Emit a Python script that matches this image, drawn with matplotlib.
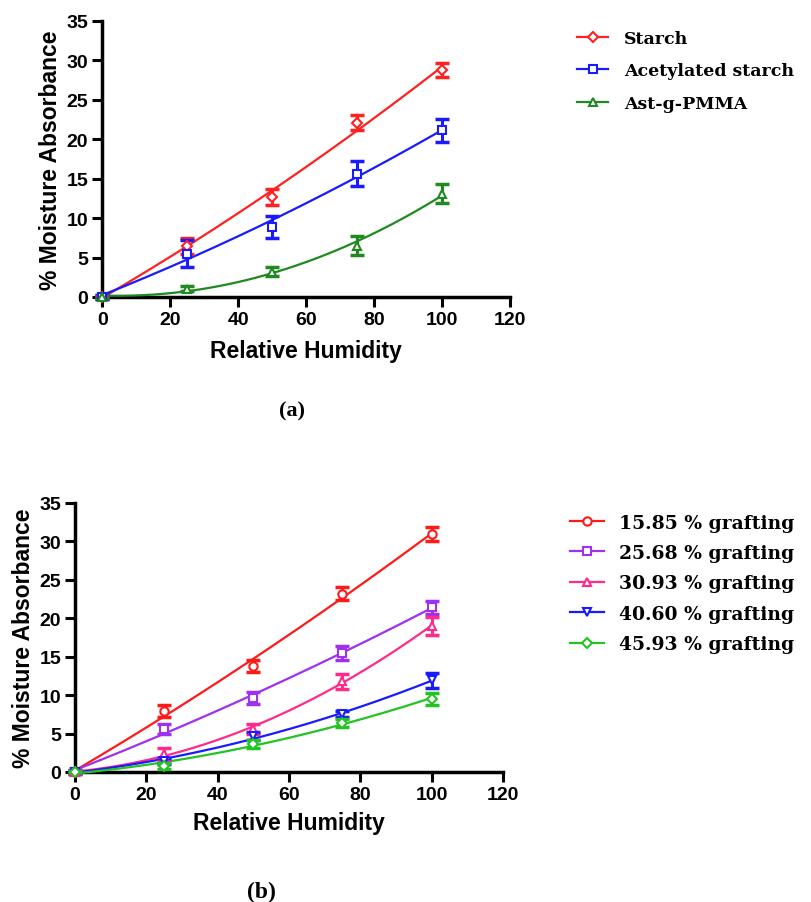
import numpy as np
import matplotlib
matplotlib.use("Agg")
import matplotlib.pyplot as plt

# ---- data panel (a) ----
rh = [0, 25, 50, 75, 100]
starch = [0.0, 6.5, 12.7, 22.1, 28.8]
starch_err = [0.2, 1.0, 1.0, 0.9, 0.9]
acet = [0.0, 5.5, 8.9, 15.6, 21.1]
acet_err = [0.2, 1.7, 1.4, 1.6, 1.5]
astg = [0.0, 1.05, 3.2, 6.5, 13.1]
astg_err = [0.1, 0.3, 0.6, 1.2, 1.2]
labels_a = ["Starch", "Acetylated starch", "Ast-g-PMMA"]

# ---- data panel (b) ----
g1585 = [0.0, 7.9, 13.8, 23.2, 30.9]
g1585_err = [0.2, 0.8, 0.8, 0.8, 0.9]
g2568 = [0.0, 5.6, 9.6, 15.5, 21.4]
g2568_err = [0.2, 0.7, 0.8, 0.9, 0.8]
g3093 = [0.0, 2.3, 5.6, 11.8, 19.0]
g3093_err = [0.1, 0.8, 0.6, 1.0, 1.2]
g4060 = [0.0, 1.4, 4.7, 7.5, 11.9]
g4060_err = [0.1, 0.4, 0.5, 0.4, 1.0]
g4593 = [0.0, 0.8, 3.6, 6.4, 9.5]
g4593_err = [0.1, 0.4, 0.5, 0.5, 0.8]
labels_b = ["15.85 % grafting", "25.68 % grafting", "30.93 % grafting",
            "40.60 % grafting", "45.93 % grafting"]

xticks = [0, 20, 40, 60, 80, 100, 120]
yticks = [0, 5, 10, 15, 20, 25, 30, 35]

sans = ["Liberation Sans", "DejaVu Sans"]
serif = ["Liberation Serif", "DejaVu Serif"]
wserif = ["DejaVu Serif"]

fig = plt.figure(figsize=(8.11, 9.03), dpi=100)

def style_ax(ax, xlpad):
    ax.set_xlim(0, 120)
    ax.set_ylim(0, 35)
    ax.set_xticks(xticks)
    ax.set_yticks(yticks)
    for s in ["top", "right"]:
        ax.spines[s].set_visible(False)
    for s in ["left", "bottom"]:
        ax.spines[s].set_linewidth(2.5)
    ax.tick_params(direction="out", length=7, width=2.2, pad=3)
    for t in ax.get_xticklabels() + ax.get_yticklabels():
        t.set_family(sans)
        t.set_weight("bold")
        t.set_fontsize(14)
    ax.set_xlabel("Relative Humidity", family=sans, weight="bold", fontsize=16.5, labelpad=xlpad)
    ax.set_ylabel("% Moisture Absorbance", family=sans, weight="bold", fontsize=16.5, labelpad=3)

def plot_series(ax, y, err, color, marker, label, ms=6):
    xs = np.array(rh, dtype=float)
    coef = np.polyfit(xs, np.array(y), 2)
    xf = np.linspace(0, 100, 200)
    ax.plot(xf, np.polyval(coef, xf), color=color, lw=1.6, clip_on=False, zorder=3)
    ax.errorbar(rh, y, yerr=err, fmt="none", ecolor=color, elinewidth=2.2,
                capsize=5, capthick=2.5, clip_on=False, zorder=4)
    ax.plot(rh, y, linestyle="none", marker=marker, ms=ms, mfc="white",
            mec=color, mew=1.5, clip_on=False, zorder=5)
    return ax.plot([], [], color=color, lw=1.6, marker=marker, ms=ms,
                   mfc="white", mec=color, mew=1.5, label=label)[0]

# ---- panel (a) ----
axa = fig.add_axes([0.126, 0.670, 0.503, 0.306])
ha = []
ha.append(plot_series(axa, starch, starch_err, "#ff2020", "D", labels_a[0], ms=5.5))
ha.append(plot_series(axa, acet, acet_err, "#1a1aff", "s", labels_a[1]))
ha.append(plot_series(axa, astg, astg_err, "#1f8a1f", "^", labels_a[2]))
style_ax(axa, 8)
fig.legend(handles=ha, loc="upper left", bbox_to_anchor=(0.703, 0.9735), frameon=False,
           prop={"family": wserif, "weight": "bold", "size": 12.5}, handlelength=1.8,
           handletextpad=0.9, labelspacing=0.9, borderaxespad=0)
fig.text(0.360, 0.544, "(a)", family=serif, weight="bold", fontsize=16, ha="center", va="center")

# ---- panel (b) ----
axb = fig.add_axes([0.0925, 0.144, 0.5275, 0.298])
hb = []
hb.append(plot_series(axb, g1585, g1585_err, "#ff1a1a", "o", labels_b[0]))
hb.append(plot_series(axb, g2568, g2568_err, "#a030f0", "s", labels_b[1]))
hb.append(plot_series(axb, g3093, g3093_err, "#ff2a8a", "^", labels_b[2]))
hb.append(plot_series(axb, g4060, g4060_err, "#1a1aff", "v", labels_b[3]))
hb.append(plot_series(axb, g4593, g4593_err, "#22c322", "D", labels_b[4], ms=5.5))
style_ax(axb, 6)
fig.legend(handles=hb, loc="upper left", bbox_to_anchor=(0.694, 0.4384), frameon=False,
           prop={"family": wserif, "weight": "bold", "size": 13.5}, handlelength=1.8,
           handletextpad=0.8, labelspacing=0.66, borderaxespad=0)
fig.text(0.322, 0.012, "(b)", family=serif, weight="bold", fontsize=17, ha="center", va="center")

fig.savefig("out.png", dpi=100)
